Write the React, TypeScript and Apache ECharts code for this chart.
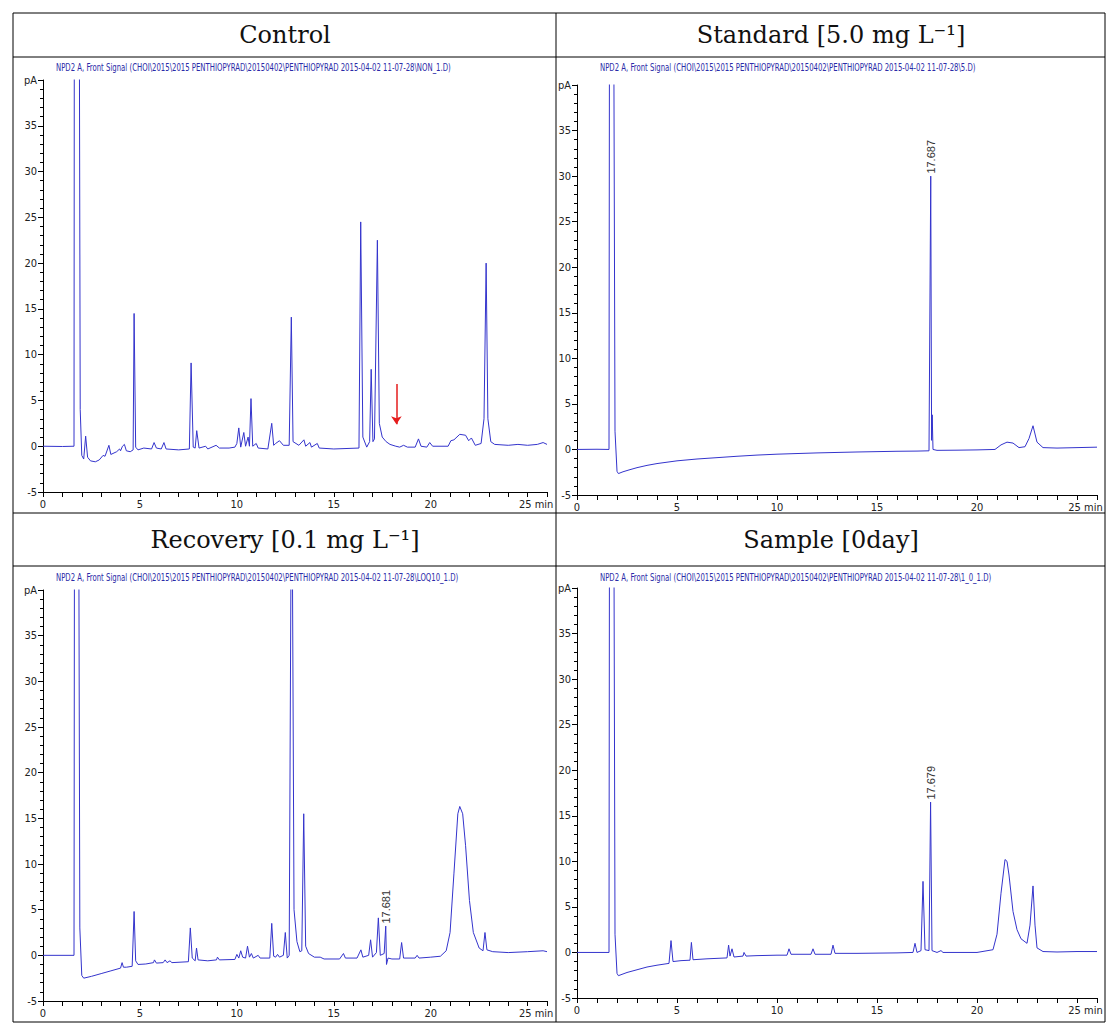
import React, { useEffect, useRef } from 'react';
import * as echarts from 'echarts';

const panelTitles = ['Control', 'Standard [5.0 mg L⁻¹]', 'Recovery [0.1 mg L⁻¹]', 'Sample [0day]'];
const signalTexts = [
  'NPD2 A, Front Signal (CHOI\\2015\\2015 PENTHIOPYRAD\\20150402\\PENTHIOPYRAD 2015-04-02 11-07-28\\NON_1.D)',
  'NPD2 A, Front Signal (CHOI\\2015\\2015 PENTHIOPYRAD\\20150402\\PENTHIOPYRAD 2015-04-02 11-07-28\\5.D)',
  'NPD2 A, Front Signal (CHOI\\2015\\2015 PENTHIOPYRAD\\20150402\\PENTHIOPYRAD 2015-04-02 11-07-28\\LOQ10_1.D)',
  'NPD2 A, Front Signal (CHOI\\2015\\2015 PENTHIOPYRAD\\20150402\\PENTHIOPYRAD 2015-04-02 11-07-28\\1_0_1.D)',
];

const xMin = 0, xMax = 26, xStep = 5;
const yMin = -5, yMax = 40, yStep = 5;
const yTopLabel = 'pA';
const xUnit = 'min';

// [time (min), signal (pA)]
const controlData: number[][] = [
  [0, 0], [1.0, -0.03], [1.6, 0], [1.62, 60], [1.86, 60], [1.92, 4], [2.0, -1.0], [2.1, -1.4], [2.2, 1.1], [2.3, -1.2],
  [2.45, -1.6], [2.7, -1.7], [2.9, -1.5], [3.1, -1.0], [3.2, -1.1], [3.4, 0.1], [3.5, -0.9], [3.8, -0.6], [3.95, -0.3],
  [4.0, -0.5], [4.1, 0.0], [4.2, 0.2], [4.3, -0.5], [4.5, -0.6], [4.65, -0.4], [4.7, 14.5], [4.78, -0.1], [4.9, -0.4],
  [5.2, -0.2], [5.6, -0.3], [5.73, 0.4], [5.85, -0.2], [6.1, -0.3], [6.24, 0.4], [6.35, -0.3], [7.0, -0.4], [7.55, -0.3],
  [7.64, 9.1], [7.75, -0.1], [7.85, -0.2], [7.93, 1.7], [8.05, -0.2], [8.39, 0.0], [8.5, -0.3], [8.93, 0.1], [9.1, -0.2],
  [9.6, -0.2], [9.9, -0.1], [10.0, 0.3], [10.1, 2.0], [10.2, -0.1], [10.36, 1.5], [10.45, 0.0], [10.58, 1.0], [10.65, 0.0],
  [10.73, 5.2], [10.82, 0.0], [11.0, 0.3], [11.1, -0.2], [11.6, -0.3], [11.8, 2.5], [11.9, 0.1], [12.0, 0.3], [12.2, 0.6],
  [12.4, 0.1], [12.7, 0.1], [12.81, 14.1], [12.9, 0.5], [13.2, 0.1], [13.46, 0.7], [13.55, 0.0], [13.77, 0.4], [13.85, -0.1],
  [14.15, 0.3], [14.25, -0.2], [15.0, -0.3], [16.3, -0.2], [16.39, 24.5], [16.5, 1.0], [16.7, -0.1], [16.85, 0.5],
  [16.93, 8.4], [17.02, 0.5], [17.1, 0.8], [17.25, 22.5], [17.35, 2.5], [17.5, 1.0], [17.7, 0.5], [17.9, 0.2], [18.2, 0.0],
  [18.4, -0.1], [18.6, 0.1], [18.8, -0.1], [19.2, -0.1], [19.37, 0.8], [19.5, 0.0], [19.8, -0.1], [19.95, 0.4], [20.1, 0.0],
  [20.9, 0.0], [21.04, 0.6], [21.2, 0.7], [21.5, 1.3], [21.8, 1.2], [21.96, 0.6], [22.1, 0.9], [22.3, 0.1], [22.6, 0.3],
  [22.75, 3.0], [22.86, 20.0], [22.95, 3.0], [23.1, 0.5], [23.3, 0.2], [24.0, 0.1], [24.5, 0.2], [25.0, 0.1], [25.5, 0.2],
  [25.8, 0.4], [26.0, 0.2],
];

const standardData: number[][] = [
  [0, 0], [1.0, 0.02], [1.6, 0], [1.63, 60], [1.82, 60], [1.9, 2], [2.0, -2.4], [2.07, -2.65], [2.3, -2.45], [2.6, -2.25],
  [3.0, -2.0], [3.5, -1.75], [4.0, -1.55], [5.0, -1.25], [6.0, -1.05], [7.0, -0.9], [8.0, -0.75], [9.0, -0.62],
  [10.0, -0.52], [11.0, -0.45], [12.0, -0.38], [13.0, -0.33], [14.0, -0.28], [15.0, -0.24], [16.0, -0.2], [17.0, -0.18],
  [17.6, -0.15], [17.687, 30], [17.73, 1.0], [17.76, 3.8], [17.8, 0.0], [18.0, -0.1], [19.0, -0.08], [20.0, -0.05],
  [20.9, 0.0], [21.2, 0.5], [21.5, 0.8], [21.8, 0.7], [22.1, 0.2], [22.4, 0.3], [22.6, 1.2], [22.8, 2.6], [23.0, 0.8],
  [23.3, 0.2], [24.0, 0.15], [25.0, 0.2], [26.0, 0.25],
];

const recoveryData: number[][] = [
  [0, 0], [1.6, 0], [1.63, 60], [1.83, 60], [1.9, 3], [2.0, -2.2], [2.1, -2.5], [2.5, -2.3], [3.0, -2.0], [3.5, -1.7],
  [4.0, -1.4], [4.08, -0.8], [4.15, -1.3], [4.3, -1.3], [4.6, -1.2], [4.7, 4.8], [4.78, -0.6], [4.9, -1.0], [5.3, -0.95],
  [5.7, -0.8], [5.75, -0.5], [5.85, -0.85], [6.2, -0.8], [6.3, -0.5], [6.4, -0.8], [6.55, -0.6], [6.65, -0.8], [7.5, -0.7],
  [7.6, 3.0], [7.7, -0.3], [7.85, -0.6], [7.92, 0.8], [8.0, -0.5], [8.5, -0.6], [8.95, -0.5], [9.0, -0.2], [9.1, -0.5],
  [9.9, -0.45], [10.0, 0.1], [10.1, -0.3], [10.2, 0.5], [10.3, -0.2], [10.45, -0.3], [10.55, 1.0], [10.65, -0.2],
  [10.75, 0.2], [10.85, -0.3], [11.1, 0.0], [11.2, -0.3], [11.7, -0.3], [11.8, 3.5], [11.9, -0.1], [12.0, -0.2],
  [12.1, 0.1], [12.2, -0.2], [12.4, 0.0], [12.5, 2.5], [12.6, -0.3], [12.7, 0.0], [12.83, 60], [12.95, 5.0], [13.1, 1.5],
  [13.25, 0.4], [13.35, 0.5], [13.45, 15.5], [13.55, 1.0], [13.7, 0.2], [14.0, -0.2], [14.3, -0.2], [14.5, -0.4],
  [15.3, -0.4], [15.5, 0.2], [15.6, -0.3], [16.2, -0.3], [16.4, 0.6], [16.5, -0.2], [16.8, 0.0], [16.9, 1.7], [17.0, -0.2],
  [17.2, 0.3], [17.3, 4.1], [17.4, 0.0], [17.6, 0.2], [17.681, 3.2], [17.72, -1.0], [17.8, -0.3], [18.0, -0.4],
  [18.4, -0.4], [18.5, 1.4], [18.6, -0.3], [19.2, -0.3], [19.3, 0.0], [19.4, -0.3], [20.0, -0.2], [20.5, -0.1],
  [20.8, 0.5], [21.0, 2.5], [21.2, 9.0], [21.4, 15.5], [21.5, 16.3], [21.65, 15.5], [21.8, 12.0], [22.0, 6.0],
  [22.2, 2.5], [22.5, 0.8], [22.7, 0.5], [22.8, 2.5], [22.9, 0.6], [23.2, 0.4], [24.0, 0.3], [25.0, 0.4], [25.8, 0.5],
  [26.0, 0.4],
];

const sampleData: number[][] = [
  [0, 0], [1.6, 0], [1.63, 60], [1.83, 60], [1.9, 2], [2.0, -2.3], [2.07, -2.55], [2.5, -2.2], [3.0, -1.9], [3.5, -1.6],
  [4.0, -1.4], [4.6, -1.2], [4.7, 1.3], [4.8, -1.0], [5.2, -0.9], [5.65, -0.85], [5.72, 1.1], [5.8, -0.8], [6.5, -0.7],
  [7.5, -0.6], [7.58, 0.8], [7.65, -0.4], [7.75, 0.4], [7.85, -0.5], [8.3, -0.4], [8.35, 0.0], [8.45, -0.4], [9.0, -0.35],
  [10.0, -0.3], [10.5, -0.3], [10.6, 0.4], [10.7, -0.2], [11.7, -0.2], [11.8, 0.4], [11.9, -0.2], [12.7, -0.2],
  [12.8, 0.8], [12.9, -0.1], [14.0, -0.1], [16.0, -0.05], [16.8, 0.0], [16.9, 1.0], [17.0, 0.0], [17.2, 0.2], [17.3, 7.8],
  [17.4, 0.3], [17.6, 0.2], [17.679, 16.5], [17.75, 0.2], [18.0, 0.0], [18.2, 0.2], [18.3, 0.0], [19.0, 0.0], [20.0, 0.0],
  [20.8, 0.3], [21.0, 2.0], [21.2, 6.5], [21.4, 10.2], [21.5, 10.0], [21.6, 8.5], [21.8, 4.5], [22.0, 2.5], [22.2, 1.5],
  [22.5, 1.0], [22.65, 3.0], [22.8, 7.3], [22.9, 3.0], [23.0, 0.5], [23.3, 0.1], [24.0, 0.05], [25.0, 0.1], [26.0, 0.1],
];

const panelData = [controlData, standardData, recoveryData, sampleData];

// labelled retention times (null = none)
const peakLabelTimes: (number | null)[] = [null, 17.687, 17.681, 17.679];
const peakLabelTexts: (string | null)[] = [null, '17.687', '17.681', '17.679'];

// red arrow in control panel: [time, fromSignal, toSignal]
const arrowTime = 18.23;
const arrowFrom = 6.8;
const arrowTo = 2.4;

const LINE = '#3434cc';
const NARROW = '"Liberation Sans Narrow", "DejaVu Sans Condensed", "Liberation Sans", sans-serif';
const SERIF = '"DejaVu Serif", serif';

const grids = [
  { left: 43, top: 80, width: 504, height: 412 },
  { left: 577, top: 85, width: 520, height: 410 },
  { left: 43, top: 590, width: 504, height: 411 },
  { left: 577, top: 588, width: 520, height: 410 },
];
const titlePos = [[285, 35], [831, 35], [285, 540], [831, 540]];
const signalPos = [[56, 67], [600, 67], [56, 577], [600, 577]];

export default function App() {
  const ref = useRef<HTMLDivElement>(null);
  useEffect(() => {
    if (!ref.current) return;
    const chart = echarts.init(ref.current, undefined, { renderer: 'svg' });

    const xAxes = grids.map((_, i) => ({
      type: 'value',
      gridIndex: i,
      min: xMin,
      max: xMax,
      interval: xStep,
      splitLine: { show: false },
      axisLine: { show: true, onZero: false, lineStyle: { color: '#000', width: 1 } },
      axisTick: { show: true, inside: false, length: 5, lineStyle: { color: '#000' } },
      minorTick: { show: true, splitNumber: 5, length: 5, lineStyle: { color: '#000' } },
      minorSplitLine: { show: false },
      axisLabel: {
        show: true,
        showMaxLabel: false,
        fontFamily: NARROW,
        fontSize: 11,
        color: '#222',
        margin: 7,
        formatter: (v: number) => {
          if (v % xStep !== 0) return '';
          if (v === 25) return '{n|25}{u| ' + xUnit + '}';
          return String(v);
        },
        rich: {
          n: { fontFamily: NARROW, fontSize: 11, color: '#222', padding: [0, 0, 0, 17] },
          u: { fontFamily: NARROW, fontSize: 11, color: '#222' },
        },
      },
    }));

    const yAxes = grids.map((_, i) => ({
      type: 'value',
      gridIndex: i,
      min: yMin,
      max: yMax,
      interval: yStep,
      splitLine: { show: false },
      axisLine: { show: true, onZero: false, lineStyle: { color: '#000', width: 1 } },
      axisTick: { show: true, inside: false, length: 5, lineStyle: { color: '#000' } },
      minorTick: { show: true, splitNumber: 5, length: 3, lineStyle: { color: '#000' } },
      axisLabel: {
        fontFamily: NARROW,
        fontSize: 11,
        color: '#222',
        margin: 6,
        formatter: (v: number) => (v === yMax ? yTopLabel : String(v)),
      },
    }));

    const series = panelData.map((d, i) => {
      const s: any = {
        type: 'line',
        xAxisIndex: i,
        yAxisIndex: i,
        data: d,
        symbol: 'none',
        showSymbol: false,
        clip: true,
        lineStyle: { color: LINE, width: 1 },
        silent: true,
      };
      const lt = peakLabelTimes[i];
      if (lt !== null) {
        const pt = d.find((p) => p[0] === lt)!;
        s.markPoint = {
          symbol: 'circle',
          symbolSize: 1,
          itemStyle: { color: 'rgba(0,0,0,0)' },
          data: [
            {
              coord: [pt[0], pt[1]],
              label: {
                show: true,
                formatter: peakLabelTexts[i],
                position: 'top',
                distance: 2,
                rotate: 90,
                align: 'left',
                verticalAlign: 'middle',
                fontFamily: '"Liberation Sans", Arial, sans-serif',
                fontSize: 11,
                color: '#333',
              },
            },
          ],
        };
      }
      if (i === 0) {
        s.markLine = {
          silent: true,
          symbol: ['none', 'arrow'],
          symbolSize: 8,
          label: { show: false },
          lineStyle: { color: '#e51c1c', width: 1.5, type: 'solid' },
          data: [[{ coord: [arrowTime, arrowFrom] }, { coord: [arrowTime, arrowTo] }]],
        };
      }
      return s;
    });

    const graphic: any[] = [
      { type: 'rect', shape: { x: 13, y: 13, width: 1092, height: 1009 }, style: { fill: 'none', stroke: '#000', lineWidth: 1 }, silent: true },
      { type: 'line', shape: { x1: 556, y1: 13, x2: 556, y2: 1022 }, style: { stroke: '#000', lineWidth: 1 }, silent: true },
      { type: 'line', shape: { x1: 13, y1: 57, x2: 1105, y2: 57 }, style: { stroke: '#000', lineWidth: 1 }, silent: true },
      { type: 'line', shape: { x1: 13, y1: 513, x2: 1105, y2: 513 }, style: { stroke: '#000', lineWidth: 1 }, silent: true },
      { type: 'line', shape: { x1: 13, y1: 566, x2: 1105, y2: 566 }, style: { stroke: '#000', lineWidth: 1 }, silent: true },
    ];
    panelTitles.forEach((t, i) => {
      graphic.push({
        type: 'text',
        x: titlePos[i][0],
        y: titlePos[i][1],
        silent: true,
        style: { text: t, fontFamily: SERIF, fontSize: 24, fill: '#111', align: 'center', verticalAlign: 'middle' },
      });
    });
    signalTexts.forEach((t, i) => {
      graphic.push({
        type: 'text',
        x: signalPos[i][0],
        y: signalPos[i][1],
        scaleX: 0.7,
        silent: true,
        style: { text: t, fontFamily: NARROW, fontSize: 11, fill: '#2a2aa8', align: 'left', verticalAlign: 'middle' },
      });
    });

    chart.setOption({
      animation: false,
      backgroundColor: '#fff',
      grid: grids,
      xAxis: xAxes,
      yAxis: yAxes,
      series,
      graphic,
    });
    return () => chart.dispose();
  }, []);
  return (
    <div
      ref={ref}
      style={{ position: 'absolute', left: 0, top: 0, width: 1118, height: 1034, background: '#fff' }}
    />
  );
}
